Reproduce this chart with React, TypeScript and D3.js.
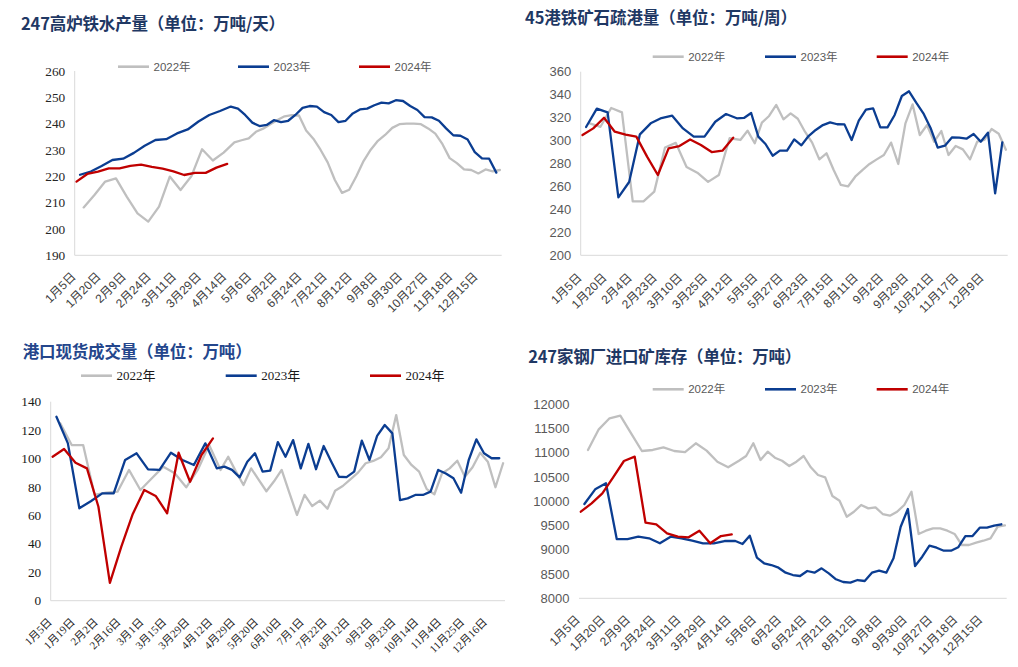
import React from 'react';
import * as d3 from 'd3';

// ---------- DATA ----------
const legendYears = ['2022年', '2023年', '2024年'];

// Panel 1: 247高炉铁水产量
const ironTicks = ['1月5日','1月20日','2月9日','2月24日','3月11日','3月29日','4月14日','5月6日','6月2日','6月24日','7月21日','8月12日','9月8日','9月30日','10月27日','11月18日','12月15日'];
const iron2022 = [208.2,212.9,218.0,219.2,212.3,205.9,202.8,208.5,219.9,214.8,220.0,230.3,226.0,229.0,232.9,233.7,234.4,236.9,238.1,239.8,241.4,242.8,243.2,243.1,237.4,234.3,230.1,225.3,218.6,213.7,214.9,220.0,225.8,230.1,233.5,235.7,238.4,239.8,240.0,240.0,239.8,238.2,236.2,232.2,226.9,225.0,222.6,222.4,221.1,222.6,221.9,222.4];
const iron2023 = [220.6,221.8,223.9,226.2,226.7,228.9,231.6,233.8,234.1,236.3,237.8,240.8,243.3,244.8,246.5,245.7,243.3,240.4,239.1,239.5,241.3,240.6,241.1,243.3,246.0,246.7,246.5,244.4,243.3,240.6,241.1,243.9,245.4,245.7,247.0,248.0,247.7,248.9,248.6,246.7,245.2,242.5,242.4,241.1,238.2,235.6,235.4,234.0,229.2,226.8,226.7,221.4];
const iron2024 = [218.0,220.9,221.8,223.0,223.0,224.0,224.4,223.6,222.9,221.9,220.5,221.3,221.3,223.3,224.7];
const ironYTicks = [190,200,210,220,230,240,250,260];

// Panel 2: 45港铁矿石疏港量
const oreTicks = ['1月5日','1月20日','2月4日','2月23日','3月10日','3月25日','4月12日','5月5日','5月27日','6月23日','7月15日','8月11日','9月2日','9月29日','10月21日','11月17日','12月9日'];
const ore2022 = [315,312,328.4,324.6,247,247,255.5,294,298,277,272,264,270,302,300.5,308.6,297.6,315.6,321.4,331,318.5,323.7,319,307.7,298.2,283.6,288.9,274.3,261.3,260,268.5,274.3,279.6,283.6,287.4,298.2,279.6,315,331.5,304.8,313.5,299,308.3,287.4,295.3,292.3,283.6,299,300.5,310,306,292];
const ore2023 = [311.8,327.8,324.6,250.5,263.9,305.4,315,319.6,321.7,310.6,303.4,303.4,316.4,323.1,319.4,319.7,324,303.4,297,286.8,291.2,291.2,301,295.8,303.9,309.2,313.5,315.9,314.2,314.1,300.5,317.3,326.9,328.1,311.5,311.5,322.3,338.8,342.9,333,323.7,311,293.8,295.5,302.8,302.5,301.6,305.7,299,306.9,254,298.4];
const ore2024 = [304.8,310.6,319.9,307.7,305.1,303.4,286.0,270.0,293.2,295.2,301.0,296.1,290.0,291.2,302.5];
const oreYTicks = [200,220,240,260,280,300,320,340,360];

// Panel 3: 港口现货成交量
const tradeTicks = ['1月5日','1月19日','2月2日','2月16日','3月1日','3月15日','3月29日','4月12日','4月29日','5月20日','6月10日','7月1日','7月22日','8月12日','9月2日','9月23日','10月14日','11月4日','11月25日','12月16日'];
const trade2022 = [124.8,109.5,109.5,74.4,76,76.7,92,77.9,86.1,94.3,89.6,79.8,92,109.5,92,101.3,91,81.4,93.1,85,77,84,92,76,60.3,74.4,66.6,70.4,64.7,77.4,80.7,85.4,90.1,96.7,98.3,100.9,107.2,130.6,102.5,95.5,90.8,78.5,74.9,89.6,93.1,98.5,87.2,93.9,104.1,97.8,79.8,96.7];
const trade2023 = [129.4,110.7,65,70,75.5,75.5,99,103.7,92.4,92,104.1,99,95.5,110.7,93.1,94.3,92,86.8,97.8,103.7,90.8,91.5,111.6,101.3,113,93.1,110.3,92.5,108.8,97.8,87.2,86.9,90.8,112.6,99,115.9,123.6,117.7,70.8,72,74.4,74.4,76.7,92,89.5,86.1,76,99,113.5,103.7,100.2,100.2];
const trade2024 = [101.3,106.7,97.1,93.1,66.1,12.5,38.0,61.0,77.9,73.7,61.5,104.1,83.7,102.5,114.2];
const tradeYTicks = [0,20,40,60,80,100,120,140];

// Panel 4: 247家钢厂进口矿库存
const invTicks = ['1月5日','1月20日','2月9日','2月24日','3月11日','3月29日','4月14日','5月6日','6月2日','6月24日','7月21日','8月12日','9月8日','9月30日','10月27日','11月18日','12月15日'];
const inv2022 = [11058,11484,11711,11765,11400,11037,11058,11113,11037,11016,11196,11044,10816,10701,10837,10934,11196,10851,11023,10899,10837,10728,10816,10934,10701,10542,10495,10109,10012,9682,9785,9924,9855,9876,9738,9703,9785,9924,10198,9326,9394,9443,9443,9394,9326,9099,9099,9146,9187,9237,9476,9505];
const inv2023 = [9944,10247,10371,9222,9222,9270,9237,9134,9270,9237,9187,9134,9134,9181,9181,9119,9291,8837,8722,8686,8631,8528,8480,8460,8563,8528,8618,8515,8392,8336,8322,8377,8357,8528,8569,8528,8825,9476,9841,8666,8858,9085,9043,8981,8981,9051,9284,9284,9456,9456,9497,9526];
const inv2024 = [9786,9958,10165,10495,10831,10920,9559,9526,9340,9270,9257,9394,9134,9284,9319];
const invYTicks = [8000,8500,9000,9500,10000,10500,11000,11500,12000];

// ---------- STYLE ----------
const C22 = '#BFBFBF';
const C23 = '#0B3D91';
const C24 = '#C00000';
const SANS = '"Liberation Sans", Arial, "Noto Sans CJK SC", sans-serif';
const SERIF = '"Liberation Serif", "Times New Roman", "Noto Sans CJK SC", serif';
const TITLE_FONT = '"Noto Sans CJK SC", "Noto Sans", sans-serif';

type Cfg = {
  title: string; titleX: number; titleY: number; titleLen: number; titleColor: string;
  x0: number; x1: number; yTop: number; yBottom: number; yTicks: number[];
  leftAxis: boolean; yFont: string; yColor: string; yFontSize: number;
  xFont: string; xColor: string; xFontSize: number; xOffset: number; tickEvery: number; tickLabels: string[];
  legendY: number; legendX: number[]; legendFont: string; legendColor: string; legendSize: number;
  s22: number[]; s23: number[]; s24: number[];
};

function Panel({ cfg }: { cfg: Cfg }) {
  // merged weekly category axis: within each week order 2024, 2023, 2022
  const entries: { key: string; w: number; r: number }[] = [];
  cfg.s24.forEach((_, w) => entries.push({ key: `24-${w}`, w, r: 0 }));
  cfg.s23.forEach((_, w) => entries.push({ key: `23-${w}`, w, r: 1 }));
  cfg.s22.forEach((_, w) => entries.push({ key: `22-${w}`, w, r: 2 }));
  entries.sort((a, b) => a.w - b.w || a.r - b.r);
  const keys = entries.map(e => e.key);

  const x = d3.scalePoint<string>().domain(keys).range([cfg.x0, cfg.x1]).padding(0.5);
  const yMin = cfg.yTicks[0];
  const yMax = cfg.yTicks[cfg.yTicks.length - 1];
  const y = d3.scaleLinear().domain([yMin, yMax]).range([cfg.yBottom, cfg.yTop]);

  const mk = (pref: string, vals: number[]) =>
    d3.line<number>().x((_, i) => x(`${pref}-${i}`) as number).y(v => y(v))(vals) || '';

  const tickKeys = keys.filter((_, i) => i % cfg.tickEvery === 0).slice(0, cfg.tickLabels.length);
  const colors = [C22, C23, C24];

  return (
    <g>
      <text x={cfg.titleX} y={cfg.titleY} fontFamily={TITLE_FONT} fontWeight={700} fontSize={16.5}
        fill={cfg.titleColor} textLength={cfg.titleLen} lengthAdjust="spacing">{cfg.title}</text>

      {/* legend */}
      {legendYears.map((lbl, i) => (
        <g key={lbl}>
          <line x1={cfg.legendX[i]} x2={cfg.legendX[i] + 31} y1={cfg.legendY} y2={cfg.legendY}
            stroke={colors[i]} strokeWidth={2.6} />
          <text x={cfg.legendX[i] + 35.5} y={cfg.legendY} dy="0.36em" fontFamily={cfg.legendFont}
            fontSize={cfg.legendSize} fill={cfg.legendColor}>{lbl}</text>
        </g>
      ))}

      {/* axes */}
      {cfg.leftAxis && (
        <line x1={cfg.x0} x2={cfg.x0} y1={cfg.yTop} y2={cfg.yBottom} stroke="#D9D9D9" strokeWidth={1} />
      )}
      <line x1={cfg.x0} x2={cfg.x1} y1={cfg.yBottom} y2={cfg.yBottom} stroke="#D9D9D9" strokeWidth={1} />

      {cfg.yTicks.map(t => (
        <text key={t} x={cfg.x0 - 9.5} y={y(t)} dy="0.35em" textAnchor="end" fontFamily={cfg.yFont}
          fontSize={cfg.yFontSize} fill={cfg.yColor}>{t}</text>
      ))}

      {tickKeys.map((k, i) => (
        <text key={k} transform={`translate(${x(k)},${cfg.yBottom + cfg.xOffset}) rotate(-45)`} textAnchor="end"
          fontFamily={cfg.xFont} fontSize={cfg.xFontSize} fill={cfg.xColor}>{cfg.tickLabels[i]}</text>
      ))}

      {/* series */}
      <path d={mk('22', cfg.s22)} fill="none" stroke={C22} strokeWidth={2.3} strokeLinejoin="round" strokeLinecap="round" />
      <path d={mk('23', cfg.s23)} fill="none" stroke={C23} strokeWidth={2.3} strokeLinejoin="round" strokeLinecap="round" />
      <path d={mk('24', cfg.s24)} fill="none" stroke={C24} strokeWidth={2.3} strokeLinejoin="round" strokeLinecap="round" />
    </g>
  );
}

const panels: Cfg[] = [
  {
    title: '247高炉铁水产量（单位：万吨/天）', titleX: 21, titleY: 30, titleLen: 264, titleColor: '#1F3864',
    x0: 74.7, x1: 501.7, yTop: 71, yBottom: 255.3, yTicks: ironYTicks,
    leftAxis: true, yFont: SERIF, yColor: '#262626', yFontSize: 13.3,
    xFont: SANS, xColor: '#404040', xFontSize: 12, xOffset: 22, tickEvery: 7, tickLabels: ironTicks,
    legendY: 66.7, legendX: [118, 238, 359], legendFont: SANS, legendColor: '#595959', legendSize: 11.5,
    s22: iron2022, s23: iron2023, s24: iron2024,
  },
  {
    title: '45港铁矿石疏港量（单位：万吨/周）', titleX: 525, titleY: 23.5, titleLen: 272, titleColor: '#1F3864',
    x0: 580.7, x1: 1007.7, yTop: 71.7, yBottom: 255.3, yTicks: oreYTicks,
    leftAxis: true, yFont: SANS, yColor: '#595959', yFontSize: 13,
    xFont: SANS, xColor: '#404040', xFontSize: 12, xOffset: 23, tickEvery: 7, tickLabels: oreTicks,
    legendY: 56.7, legendX: [652.7, 765, 876.7], legendFont: SANS, legendColor: '#595959', legendSize: 11.5,
    s22: ore2022, s23: ore2023, s24: ore2024,
  },
  {
    title: '港口现货成交量（单位：万吨）', titleX: 22.7, titleY: 357.5, titleLen: 229, titleColor: '#24468C',
    x0: 50.7, x1: 505, yTop: 401.7, yBottom: 600.7, yTicks: tradeYTicks,
    leftAxis: true, yFont: SERIF, yColor: '#1a1a1a', yFontSize: 13.3,
    xFont: SERIF, xColor: '#262626', xFontSize: 11, xOffset: 22, tickEvery: 6, tickLabels: tradeTicks,
    legendY: 375.7, legendX: [81, 225.7, 370], legendFont: SERIF, legendColor: '#1a1a1a', legendSize: 13,
    s22: trade2022, s23: trade2023, s24: trade2024,
  },
  {
    title: '247家钢厂进口矿库存（单位：万吨）', titleX: 528.3, titleY: 362.5, titleLen: 273, titleColor: '#1F3864',
    x0: 579, x1: 1006.7, yTop: 404.3, yBottom: 598.3, yTicks: invYTicks,
    leftAxis: false, yFont: SANS, yColor: '#595959', yFontSize: 13,
    xFont: SANS, xColor: '#404040', xFontSize: 12, xOffset: 22, tickEvery: 7, tickLabels: invTicks,
    legendY: 389.3, legendX: [652.7, 765, 876.7], legendFont: SANS, legendColor: '#595959', legendSize: 11.5,
    s22: inv2022, s23: inv2023, s24: inv2024,
  },
];

export default function App() {
  return (
    <svg width={1018} height={667} viewBox="0 0 1018 667"
      style={{ position: 'absolute', left: 0, top: 0, display: 'block', background: '#fff' }}>
      <rect x={0} y={0} width={1018} height={667} fill="#fff" />
      {panels.map((p, i) => <Panel key={i} cfg={p} />)}
    </svg>
  );
}
